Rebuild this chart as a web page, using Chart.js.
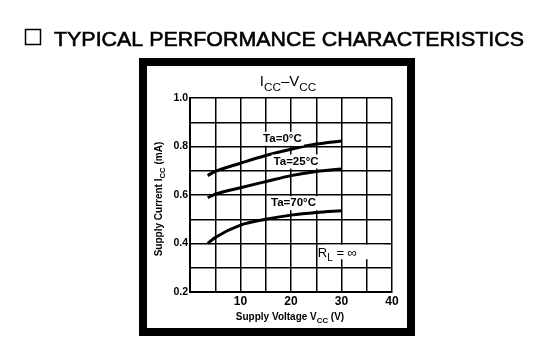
<!DOCTYPE html>
<html>
<head>
<meta charset="utf-8">
<script src="https://cdn.jsdelivr.net/npm/chart.js@4.4.0/dist/chart.umd.min.js"></script>
<style>
  html, body { margin: 0; padding: 0; background: #fff; }
  #wrap { width: 544px; height: 354px; position: relative; }
</style>
</head>
<body>
<div id="wrap"><canvas id="myChart" width="544" height="354"></canvas></div>
<script>
// supply voltage (V) sample points along each curve
const voltage = [3.5, 5, 10, 15, 20, 25, 30];
// supply current (mA) for each ambient temperature
const icc0 = [0.68, 0.697, 0.731, 0.763, 0.789, 0.81, 0.823];
const icc25 = [0.589, 0.603, 0.63, 0.655, 0.68, 0.697, 0.707];
const icc70 = [0.40, 0.425, 0.476, 0.50, 0.517, 0.528, 0.535];
const seriesNames = ['Ta=0°C', 'Ta=25°C', 'Ta=70°C'];
// where the curve labels sit, in data units
const labelX = [18.3, 21, 20.5];
const labelY = [0.832, 0.738, 0.566];

const xTicks = [10, 20, 30, 40];
const yTicks = [0.2, 0.4, 0.6, 0.8, 1.0];

function toPoints(ys) {
    return voltage.map((v, i) => ({ x: v, y: ys[i] }));
}

// draws a run of [text, isSub] pieces starting at x, baseline y
function drawRich(ctx, parts, x, y, size, weight, align) {
    let total = 0;
    const widths = parts.map(p => {
        ctx.font = weight + ' ' + (p[1] ? size * 0.78 : size) + 'px "Liberation Sans", Arial, sans-serif';
        const w = ctx.measureText(p[0]).width;
        total += w;
        return w;
    });
    let cx = align === 'center' ? x - total / 2 : x;
    parts.forEach((p, i) => {
        ctx.font = weight + ' ' + (p[1] ? size * 0.78 : size) + 'px "Liberation Sans", Arial, sans-serif';
        ctx.fillText(p[0], cx, p[1] ? y + size * 0.3 : y);
        cx += widths[i];
    });
}

const decorations = {
    id: 'decorations',
    beforeDraw(chart) {
        const ctx = chart.ctx;
        ctx.save();
        ctx.fillStyle = '#fff';
        ctx.fillRect(0, 0, chart.width, chart.height);
        // page header
        ctx.strokeStyle = '#000';
        ctx.lineWidth = 1.5;
        ctx.strokeRect(25.5, 29.5, 15, 15);
        ctx.fillStyle = '#000';
        ctx.textBaseline = 'alphabetic';
        ctx.font = '21px "Liberation Sans", Arial, sans-serif';
        const head = 'TYPICAL PERFORMANCE CHARACTERISTICS';
        const hw = ctx.measureText(head).width;
        ctx.save();
        ctx.translate(54, 46);
        ctx.scale(470 / hw, 1);
        ctx.fillText(head, 0, 0);
        ctx.lineWidth = 0.6;
        ctx.strokeText(head, 0, 0);
        ctx.restore();
        // thick frame
        ctx.lineWidth = 8;
        ctx.strokeRect(143, 62, 268, 270);
        ctx.restore();
    },
    afterDatasetsDraw(chart) {
        const ctx = chart.ctx;
        const xs = chart.scales.x, ys = chart.scales.y;
        ctx.save();
        ctx.fillStyle = '#000';
        ctx.textBaseline = 'alphabetic';
        // chart title
        drawRich(ctx, [['I', false], ['CC', true], ['–V', false], ['CC', true]], 288, 86, 15, 'normal', 'center');
        // axis titles
        drawRich(ctx, [['Supply Voltage V', false], ['CC', true], [' (V)', false]], 290, 320, 10, 'bold', 'center');
        ctx.save();
        ctx.translate(162, 199);
        ctx.rotate(-Math.PI / 2);
        drawRich(ctx, [['Supply Current I', false], ['CC', true], [' (mA)', false]], 0, 0, 10, 'bold', 'center');
        ctx.restore();
        // curve labels
        ctx.font = 'bold 11.5px "Liberation Sans", Arial, sans-serif';
        ctx.textAlign = 'center';
        ctx.textBaseline = 'middle';
        seriesNames.forEach((name, i) => {
            const px = xs.getPixelForValue(labelX[i]);
            const py = ys.getPixelForValue(labelY[i]);
            const w = ctx.measureText(name).width;
            ctx.fillStyle = '#fff';
            ctx.fillRect(px - w / 2 - 2, py - 7, w + 4, 14);
            ctx.fillStyle = '#000';
            ctx.fillText(name, px, py);
        });
        // load condition box
        const bx1 = xs.getPixelForValue(26.5), bx2 = xs.getPixelForValue(38.5);
        const by1 = ys.getPixelForValue(0.395), by2 = ys.getPixelForValue(0.335);
        ctx.fillStyle = '#fff';
        ctx.fillRect(bx1, by1, bx2 - bx1, by2 - by1);
        ctx.fillStyle = '#000';
        ctx.textAlign = 'left';
        ctx.textBaseline = 'alphabetic';
        const rx = xs.getPixelForValue(25.3);
        const ry = ys.getPixelForValue(0.366) + 5;
        drawRich(ctx, [['R', false], ['L', true], [' = ∞', false]], rx, ry, 13, 'normal', 'left');
        ctx.restore();
    }
};

const ctx = document.getElementById('myChart');

const myChart = new Chart(ctx, {
    type: 'line',
    data: {
        datasets: [
            { label: seriesNames[0], data: toPoints(icc0) },
            { label: seriesNames[1], data: toPoints(icc25) },
            { label: seriesNames[2], data: toPoints(icc70) }
        ].map(d => Object.assign(d, {
            borderColor: '#000',
            borderWidth: 3,
            pointRadius: 0,
            tension: 0.4,
            cubicInterpolationMode: 'monotone',
            fill: false
        }))
    },
    options: {
        responsive: false,
        animation: false,
        layout: {
            padding: { left: 150, right: 152, top: 98, bottom: 32 }
        },
        scales: {
            x: {
                type: 'linear',
                min: 0,
                max: 40,
                afterFit(scale) { scale.height = 30; },
                ticks: {
                    stepSize: 5,
                    padding: 2,
                    color: '#000',
                    font: { size: 12, weight: 'bold', family: '"Liberation Sans", Arial, sans-serif' },
                    callback: v => xTicks.includes(v) ? String(v) : ''
                },
                grid: { color: '#000', lineWidth: 1.5, drawTicks: false },
                border: { color: '#000', width: 2 }
            },
            y: {
                min: 0.2,
                max: 1.0,
                afterFit(scale) { scale.width = 40; },
                ticks: {
                    stepSize: 0.1,
                    padding: 2,
                    color: '#000',
                    font: { size: 10.5, weight: 'bold', family: '"Liberation Sans", Arial, sans-serif' },
                    callback: v => yTicks.some(t => Math.abs(t - v) < 1e-6) ? v.toFixed(1) : ''
                },
                grid: { color: '#000', lineWidth: 1.5, drawTicks: false },
                border: { color: '#000', width: 2 }
            }
        },
        plugins: {
            legend: { display: false },
            tooltip: { enabled: false }
        }
    },
    plugins: [decorations]
});
</script>
</body>
</html>
